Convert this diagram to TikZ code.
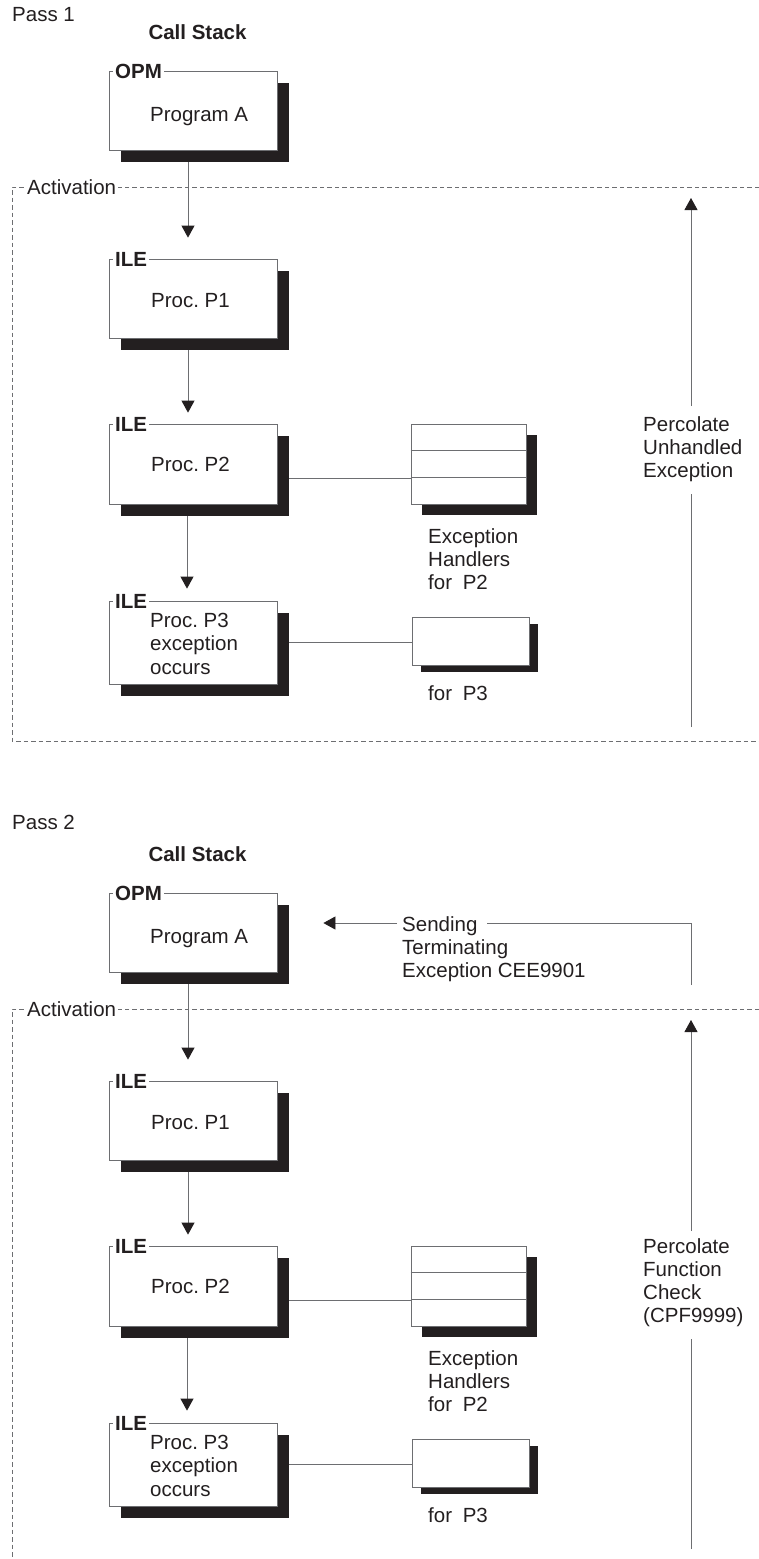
\documentclass[tikz,border=0pt]{standalone}
\usepackage{fontspec}
\setmainfont{Liberation Sans}
\usetikzlibrary{shadows,arrows.meta}
\definecolor{ink}{HTML}{231F20}
\definecolor{edge}{HTML}{6D6E71}
\newcommand{\fs}{\fontsize{20.5}{23.3}\selectfont}
\frenchspacing
\tikzset{
  base/.style={inner sep=0pt, text=ink, font=\fs},
  txt/.style={base, anchor=north west, align=left},
  ctxt/.style={base, anchor=north, align=center},
  tag/.style={base, font=\fs\bfseries, fill=white, inner xsep=2pt, inner ysep=0pt, anchor=west},
  actlabel/.style={base, fill=white, inner xsep=1.5pt, anchor=west},
  bigshadow/.style={drop shadow={shadow xshift=12pt, shadow yshift=-12pt, opacity=1, fill=ink}},
  midshadow/.style={drop shadow={shadow xshift=11pt, shadow yshift=-11pt, opacity=1, fill=ink}},
  smallshadow/.style={drop shadow={shadow xshift=9pt, shadow yshift=-7pt, opacity=1, fill=ink}},
  procbox/.style={draw=edge, line width=0.8pt, fill=white, minimum width=168pt, inner sep=0pt, bigshadow},
  hbox/.style={draw=edge, line width=0.8pt, fill=white, inner sep=0pt},
  link/.style={draw=edge, line width=0.8pt},
  arr/.style={link, -{Triangle[width=13pt,length=12pt,color=ink]}},
  actbox/.style={draw=edge, line width=0.8pt, dash pattern=on 4.5pt off 3pt},
}
\begin{document}
\begin{tikzpicture}[x=1pt,y=-1pt]
\useasboundingbox (0,0) rectangle (759,1559);

% ================= PASS 1 =================
\node[txt] (pass1) at (12,7) {Pass 1};
\node[ctxt, font=\fs\bfseries] (cs1) at (197.5,24) {Call Stack};

\draw[actbox] (759,187) -- (12,187) -- (12,741) -- (759,741);
\node[actlabel] (act1) at (25.5,187) {Activation};

\node[procbox, minimum height=79pt] (opm1) at (193,110.5) {};
\node[tag] (opmtag1) at (113,71) {OPM};
\node[txt] (opmtxt1) at (150,107) {Program A};

\node[procbox, minimum height=79pt] (pa1) at (193,298.5) {};
\node[tag] (patag1) at (113,259) {ILE};
\node[txt] (patxt1) at (151,293) {Proc. P1};

\node[procbox, minimum height=80pt] (pb1) at (193,464) {};
\node[tag] (pbtag1) at (113,424) {ILE};
\node[txt] (pbtxt1) at (151,457) {Proc. P2};

\node[procbox, minimum height=83pt] (pc1) at (193,642.5) {};
\node[tag] (pctag1) at (113,601) {ILE};
\node[txt] (pctxt1) at (150,613) {Proc. P3\\exception\\occurs};

\node[hbox, midshadow, minimum width=115pt, minimum height=80pt] (hb1) at (468.5,464) {};
\draw[link] ([yshift=-27pt]hb1.north west) -- ([yshift=-27pt]hb1.north east);
\draw[link] ([yshift=-54pt]hb1.north west) -- ([yshift=-54pt]hb1.north east);
\node[txt] (hbtxt1) at (428,528) {Exception\\Handlers\\for\hspace{5pt} P2};

\node[hbox, smallshadow, minimum width=117pt, minimum height=48pt] (hc1) at (470.5,641) {};
\node[txt] (hctxt1) at (428,685) {for\hspace{5pt} P3};

\draw[link, shorten <=12pt] ([yshift=-14pt]pb1.east) -- ([yshift=-14pt]pb1.east -| hb1.west);
\draw[link, shorten <=12pt] (pc1.east) -- (pc1.east -| hc1.west);

\draw[arr, shorten <=12pt, shorten >=21pt] ([xshift=-5pt]opm1.south) -- ([xshift=-5pt]pa1.north);
\draw[arr, shorten <=12pt, shorten >=11pt] ([xshift=-5pt]pa1.south) -- ([xshift=-5pt]pb1.north);
\draw[arr, shorten <=12pt, shorten >=12pt] ([xshift=-6pt]pb1.south) -- ([xshift=-6pt]pc1.north);

\node[txt] (perc1) at (643,416) {Percolate\\Unhandled\\Exception};
\coordinate (ptop1) at (691,198);
\coordinate (pbot1) at (691,727);
\draw[link, shorten >=12pt] (pbot1) -- (pbot1 |- perc1.south);
\draw[arr, shorten <=10pt] (ptop1 |- perc1.north) -- (ptop1);

% ================= PASS 2 =================
\node[txt] (pass2) at (12,815) {Pass 2};
\node[ctxt, font=\fs\bfseries] (cs2) at (197.5,846) {Call Stack};

\draw[actbox] (759,1009) -- (12,1009) -- (12,1559);
\node[actlabel] (act2) at (25.5,1009) {Activation};

\node[procbox, minimum height=79pt] (opm2) at (193,932.5) {};
\node[tag] (opmtag2) at (113,893) {OPM};
\node[txt] (opmtxt2) at (150,929) {Program A};

\node[procbox, minimum height=79pt] (pa2) at (193,1120.5) {};
\node[tag] (patag2) at (113,1081) {ILE};
\node[txt] (patxt2) at (151,1115) {Proc. P1};

\node[procbox, minimum height=80pt] (pb2) at (193,1286) {};
\node[tag] (pbtag2) at (113,1246) {ILE};
\node[txt] (pbtxt2) at (151,1279) {Proc. P2};

\node[procbox, minimum height=83pt] (pc2) at (193,1464.5) {};
\node[tag] (pctag2) at (113,1423) {ILE};
\node[txt] (pctxt2) at (150,1435) {Proc. P3\\exception\\occurs};

\node[hbox, midshadow, minimum width=115pt, minimum height=80pt] (hb2) at (468.5,1286) {};
\draw[link] ([yshift=-27pt]hb2.north west) -- ([yshift=-27pt]hb2.north east);
\draw[link] ([yshift=-54pt]hb2.north west) -- ([yshift=-54pt]hb2.north east);
\node[txt] (hbtxt2) at (428,1350) {Exception\\Handlers\\for\hspace{5pt} P2};

\node[hbox, smallshadow, minimum width=117pt, minimum height=48pt] (hc2) at (470.5,1463) {};
\node[txt] (hctxt2) at (428,1507) {for\hspace{5pt} P3};

\draw[link, shorten <=12pt] ([yshift=-14pt]pb2.east) -- ([yshift=-14pt]pb2.east -| hb2.west);
\draw[link, shorten <=12pt] (pc2.east) -- (pc2.east -| hc2.west);

\draw[arr, shorten <=12pt, shorten >=21pt] ([xshift=-5pt]opm2.south) -- ([xshift=-5pt]pa2.north);
\draw[arr, shorten <=12pt, shorten >=11pt] ([xshift=-5pt]pa2.south) -- ([xshift=-5pt]pb2.north);
\draw[arr, shorten <=12pt, shorten >=12pt] ([xshift=-6pt]pb2.south) -- ([xshift=-6pt]pc2.north);

\node[txt] (perc2) at (643,1238) {Percolate\\Function\\Check\\(CPF9999)};
\coordinate (ptop2) at (691,1020);
\coordinate (pbot2) at (691,1549);
\draw[link, shorten >=12pt] (pbot2) -- (pbot2 |- perc2.south);
\draw[arr, shorten <=7pt] (ptop2 |- perc2.north) -- (ptop2);

% sending terminating exception
\node[txt] (senda) at (402,916) {Sending};
\node[txt] (sendb) at (402,939.3) {Terminating\\Exception CEE9901};
\coordinate (sbot) at (691,985);
\coordinate (scorner) at (691,923);
\draw[link, shorten >=9pt] (sbot) -- (scorner) -- (scorner -| senda.east);
\draw[arr, shorten <=5pt, shorten >=46pt] (scorner -| senda.west) -- (scorner -| opm2.east);
\end{tikzpicture}
\end{document}
